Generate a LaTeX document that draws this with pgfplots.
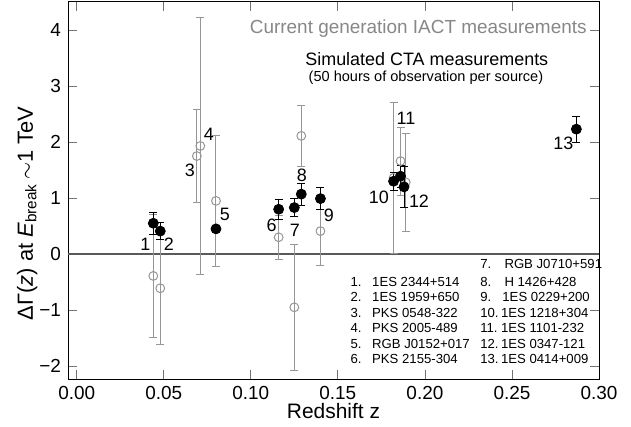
\documentclass[border=0pt]{standalone}
\usepackage{fontspec}
\setmainfont{Liberation Sans}
\usepackage{pgfplots}
\pgfplotsset{compat=1.18}
\definecolor{iactgray}{RGB}{150,150,150}
\definecolor{txtgray}{RGB}{135,135,135}

% z, Delta Gamma, error
\pgfplotstableread{
z      g      e
0.044 -0.39   1.10
0.048 -0.61   1.00
0.069  1.75   0.83
0.071  1.93   2.30
0.080  0.95   1.17
0.116  0.30   0.39
0.125 -0.95   1.13
0.129  2.11   0.55
0.140  0.41   0.61
0.182  1.36   1.35
0.186  1.66   0.61
0.189  1.28   0.88
}\iactdata

\pgfplotstableread{
z      g      e
0.044  0.55   0.20
0.048  0.41   0.15
0.080  0.45   0.05
0.116  0.80   0.18
0.125  0.83   0.16
0.129  1.07   0.20
0.140  0.99   0.20
0.182  1.30   0.16
0.186  1.39   0.20
0.188  1.20   0.37
0.287  2.23   0.23
}\ctadata

\begin{document}
\begin{tikzpicture}
\begin{axis}[
  scale only axis, width=265.5bp, height=188.5bp,
  xmin=-0.005, xmax=0.30, ymin=-2.23, ymax=4.5,
  xtick={0,0.05,0.10,0.15,0.20,0.25,0.30},
  xticklabels={0.00,0.05,0.10,0.15,0.20,0.25,0.30},
  ytick={-2,-1,0,1,2,3,4},
  yticklabels={−2,−1,0,1,2,3,4},
  tick align=inside, major tick length=4.5bp,
  tick style={black!55, line width=0.4pt},
  axis line style={line width=0.5pt},
  ticklabel style={font=\fontsize{9.5}{11}\selectfont},
  xlabel={Redshift z},
  xlabel style={font=\fontsize{10.5}{12}\selectfont, at={(axis description cs:0.5,0)}, anchor=north, inner sep=0pt, yshift=-12bp},
  ylabel={ΔΓ(\textit{z}) at \textit{E}\textsubscript{break}\,$\sim$1 TeV},
  ylabel style={font=\fontsize{11}{12}\selectfont, at={(axis description cs:-0.057,0.439)}, anchor=south, inner sep=0pt},
  clip=false,
]
\addplot[black!65, line width=0.6pt, forget plot] coordinates {(-0.005,0) (0.30,0)};

\addplot[only marks, mark=o, mark size=2.2bp, iactgray,
  mark options={fill=white, line width=0.5pt},
  error bars/.cd, y dir=both, y explicit,
  error bar style={iactgray, line width=0.5pt},
  error mark options={rotate=90, mark size=2bp, iactgray, line width=0.4pt}]
  table[x=z, y=g, y error=e] {\iactdata};

\addplot[only marks, mark=*, mark size=2.5bp, black,
  error bars/.cd, y dir=both, y explicit,
  error bar style={black, line width=0.5pt},
  error mark options={rotate=90, mark size=2bp, black, line width=0.4pt}]
  table[x=z, y=g, y error=e] {\ctadata};

% source numbers
\begin{scope}[every node/.style={font=\fontsize{9}{10}\selectfont, inner sep=0pt}]
\node at (axis cs:0.0395,0.18) {1};
\node at (axis cs:0.0529,0.18) {2};
\node at (axis cs:0.0650,1.49) {3};
\node at (axis cs:0.0759,2.14) {4};
\node at (axis cs:0.0851,0.70) {5};
\node at (axis cs:0.1119,0.52) {6};
\node at (axis cs:0.1253,0.42) {7};
\node at (axis cs:0.1293,1.41) {8};
\node at (axis cs:0.1449,0.70) {9};
\node at (axis cs:0.1736,1.02) {10};
\node at (axis cs:0.1891,2.43) {11};
\node at (axis cs:0.1966,0.95) {12};
\node at (axis cs:0.2795,1.98) {13};
\end{scope}

% annotations
\node[anchor=east, inner sep=0pt, text=txtgray, font=\fontsize{9.5}{11}\selectfont] at (axis cs:0.2931,4.03) {Current generation IACT measurements};
\node[inner sep=0pt, font=\fontsize{9}{10}\selectfont] at (axis cs:0.2011,3.48) {Simulated CTA measurements};
\node[inner sep=0pt, font=\fontsize{7.3}{8}\selectfont] at (axis cs:0.2006,3.15) {(50 hours of observation per source)};

% list of sources
\begin{scope}[every node/.style={font=\fontsize{6.6}{8}\selectfont, inner sep=0pt}]
\node[anchor=base east] at (axis cs:0.1638,-0.575) {1.};
\node[anchor=base east] at (axis cs:0.1638,-0.852) {2.};
\node[anchor=base east] at (axis cs:0.1638,-1.129) {3.};
\node[anchor=base east] at (axis cs:0.1638,-1.405) {4.};
\node[anchor=base east] at (axis cs:0.1638,-1.682) {5.};
\node[anchor=base east] at (axis cs:0.1638,-1.955) {6.};
\node[anchor=base west] at (axis cs:0.1695,-0.575) {1ES 2344+514};
\node[anchor=base west] at (axis cs:0.1695,-0.852) {1ES 1959+650};
\node[anchor=base west] at (axis cs:0.1695,-1.129) {PKS 0548-322};
\node[anchor=base west] at (axis cs:0.1695,-1.405) {PKS 2005-489};
\node[anchor=base west] at (axis cs:0.1695,-1.682) {RGB J0152+017};
\node[anchor=base west] at (axis cs:0.1695,-1.955) {PKS 2155-304};
\node[anchor=base west] at (axis cs:0.2316,-0.259) {7.};
\node[anchor=base west] at (axis cs:0.2316,-0.575) {8.};
\node[anchor=base west] at (axis cs:0.2316,-0.852) {9.};
\node[anchor=base west] at (axis cs:0.2316,-1.129) {10.};
\node[anchor=base west] at (axis cs:0.2316,-1.405) {11.};
\node[anchor=base west] at (axis cs:0.2316,-1.682) {12.};
\node[anchor=base west] at (axis cs:0.2316,-1.955) {13.};
\node[anchor=base west] at (axis cs:0.2455,-0.259) {RGB J0710+591};
\node[anchor=base west] at (axis cs:0.2455,-0.575) {H 1426+428};
\node[anchor=base west] at (axis cs:0.2443,-0.852) {1ES 0229+200};
\node[anchor=base west] at (axis cs:0.2435,-1.129) {1ES 1218+304};
\node[anchor=base west] at (axis cs:0.2435,-1.405) {1ES 1101-232};
\node[anchor=base west] at (axis cs:0.2435,-1.682) {1ES 0347-121};
\node[anchor=base west] at (axis cs:0.2435,-1.955) {1ES 0414+009};
\end{scope}
\end{axis}
\pgfresetboundingbox
\path (-34bp,-24bp) rectangle (281.5bp,189.5bp);
\end{tikzpicture}
\end{document}
